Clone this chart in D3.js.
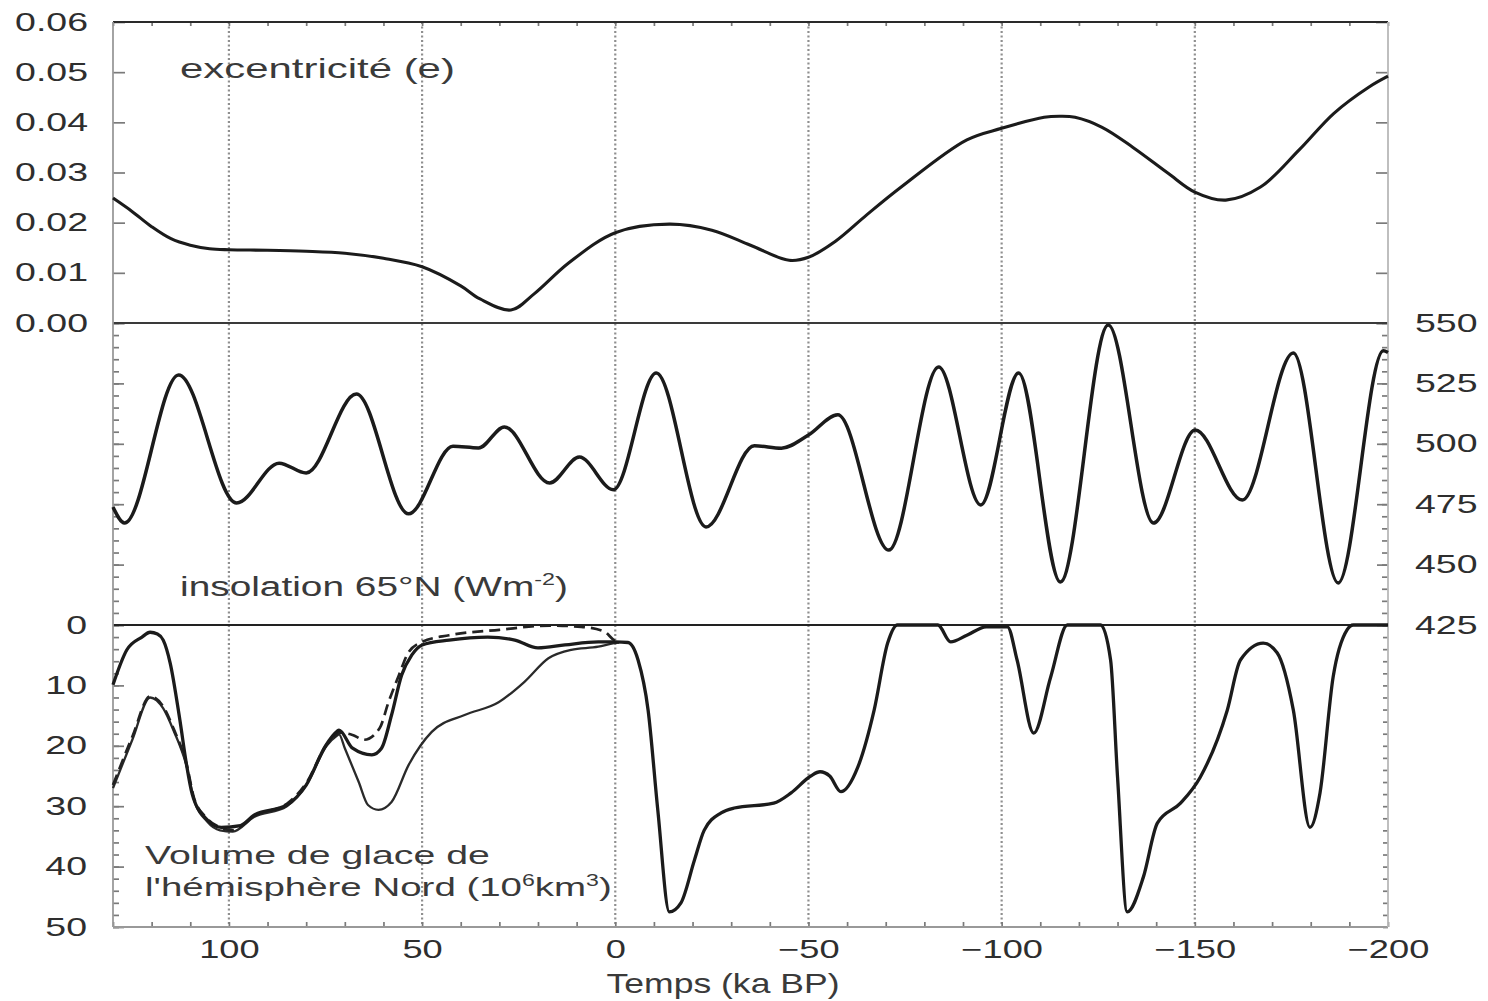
<!DOCTYPE html>
<html>
<head>
<meta charset="utf-8">
<script src="https://cdn.jsdelivr.net/npm/d3@7"></script>
<style>
  html, body { margin: 0; background: #fff; }
  svg { display: block; }
</style>
</head>
<body>
<svg id="chart" width="1488" height="1001"></svg>
<script>
// ---- Data -------------------------------------------------------------
// Time in ka BP (positive = past, negative = future)
const timeTicks = [100, 50, 0, -50, -100, -150, -200];
const gridTimes = [100, 50, 0, -50, -100, -150];
const eccTicks = [0, 0.01, 0.02, 0.03, 0.04, 0.05, 0.06];
const insTicks = [550, 525, 500, 475, 450, 425];
const iceTicks = [0, 10, 20, 30, 40, 50];

// Orbital eccentricity [time, e]
const eccentricity = [
  [130,0.0249],[125,0.0222],[120,0.0192],[115,0.0168],[110,0.0155],[105,0.0148],
  [100,0.0146],[90,0.0145],[80,0.0143],[70,0.0139],[60,0.0129],[50,0.0112],
  [40,0.0074],[35,0.0048],[27,0.0026],[21,0.0058],[12,0.0120],[0,0.0180],
  [-14,0.0197],[-25,0.0185],[-35,0.0155],[-45,0.0125],[-50,0.0131],[-57,0.0163],
  [-65,0.0215],[-74,0.0271],[-91,0.0365],[-100,0.0388],[-111,0.0410],[-115,0.0412],
  [-119,0.0410],[-126,0.0390],[-134,0.0350],[-143,0.0299],[-150,0.0261],[-158,0.0245],
  [-167,0.0271],[-177,0.0345],[-186,0.0418],[-195,0.0470],[-200,0.0492]
];

// Summer insolation at 65°N [time, W m-2]
const insolation = [
  [130,473.8],[127,467.2],[113,528.5],[98,475.5],[87,492],[80,487.9],[67,520.6],
  [53.5,471],[42,499],[35.4,498.3],[28.7,507],[17,483.8],[9.3,494.5],[0.5,481],
  [-10.6,529.3],[-23.5,465.6],[-36,499.2],[-43,498.2],[-50,503.6],[-57.6,512],
  [-70.8,456],[-83.7,531.8],[-94.6,474.7],[-104.4,529.3],[-115.2,442.8],
  [-127.6,549.2],[-139.3,467.2],[-150.1,505.7],[-162.3,476.7],[-175.5,537.6],
  [-187.1,442.4],[-198.8,538.5],[-200,537.8]
];

// Northern Hemisphere ice volume (10^6 km3), reference simulation
const iceMain = [
  [130,9.9],[126.4,4.1],[122.5,2.0],[120.4,1.2],[118.5,1.5],[117,2.5],[115.2,6.3],
  [112.7,15.7],[111,23],[109.5,28],[106,32],[102,33.5],[97,33.2],[93.5,31.5],
  [85,29.8],[80,26.5],[75,20],[72,17.6],[71.5,17.4],[68,20.4],[63,21.5],[60.5,20.4],
  [57.9,14.9],[55.3,8.3],[52.7,5.0],[50,3.3],[43,2.5],[33,2.0],[26,2.5],[20,3.8],
  [13,3.3],[4.4,2.8],[0,2.8],[-3.3,2.9],[-5.9,5.8],[-8.5,14.1],[-11,30.6],[-14,47.5],
  [-17,46],[-20.5,38.9],[-23,34],[-27.4,31.1],[-30.8,30.3],[-41,29.5],[-45.5,27.8],
  [-50.6,25],[-53,24.3],[-55.5,25],[-58.4,27.6],[-62.8,23.5],[-67,14.1],[-70.5,3],[-73,0],
  [-83.5,0],[-86.8,2.8],[-91,1.7],[-96,0.3],[-101.5,0.3],[-104,5.8],[-108.3,17.9],
  [-112.7,8.6],[-117,0],[-125.6,0],[-128.2,5.8],[-130,25.2],[-132.5,47.5],[-136.7,41.7],
  [-140.3,32.8],[-146.3,29.5],[-151.4,25.2],[-158.4,14.1],[-161.8,5.8],[-167.7,3.0],
  [-171.3,4.6],[-175.5,14.1],[-179.8,33.5],[-182.4,27.8],[-185.8,8.6],[-189.4,0.8],
  [-191,0],[-200,0]
];

// Alternative simulation (dashed)
const iceDashed = [
  [130,26.5],[125,18.5],[120.4,11.8],[117,13.5],[114.3,17.2],[110.9,23.2],[109,28.7],
  [105.7,32],[102.3,33.5],[99,34],[93.5,31.6],[85,29.6],[79.8,26],[74.7,19.8],
  [72,18.1],[71.5,17.8],[68,18.2],[65,19],[61,17.1],[58.7,12.8],[56,8.3],[53.5,4.5],
  [50,2.8],[43,1.7],[30,0.8],[17,0.1],[8.8,0.3],[2.8,1.1],[0.3,2.5],[-1,2.8]
];

// Alternative simulation (thin line)
const iceThin = [
  [130,27],[125,19],[120.4,12],[117,13.8],[114.3,17.5],[110.9,23.5],[109,29],
  [105.7,32.5],[102.3,34],[99,34.2],[93.5,31.8],[85,30],[79.8,26.3],[74.7,20],
  [72,18.3],[71.5,18.1],[70,20.4],[66.4,26],[64,29.8],[61.3,30.6],[57.9,29.3],
  [53.5,23.2],[47.5,17.7],[39,14.9],[30.2,12.8],[23.5,9.4],[17.3,5.5],[11.4,4.1],
  [4.4,3.6],[0.3,3.0],[-1,2.9]
];

// ---- Layout -----------------------------------------------------------
const FONT = '"Liberation Sans", Arial, Helvetica, sans-serif';
const L = 113, R = 1388, T = 22, Y1 = 323, Y2 = 625, B = 927;

const svg = d3.select("#chart");

const x = d3.scaleLinear().domain([130, -200]).range([L, R]);
const yEcc = d3.scaleLinear().domain([0, 0.06]).range([Y1, T]);
const yIns = d3.scaleLinear().domain([425, 550]).range([Y2, Y1]);
const yIce = d3.scaleLinear().domain([0, 50]).range([Y2, B]);

// Tick labels are horizontally widened
function styleAxis(g, sx = 1.5) {
  g.select(".domain").remove();
  g.attr("font-family", FONT).attr("font-size", 25).attr("color", "#7a7a7a");
  g.selectAll("line").attr("stroke-width", 1.7);
  g.selectAll("text").attr("fill", "#2e2e2e").each(function () {
    const t = d3.select(this);
    const tx = +t.attr("x") || 0, ty = +t.attr("y") || 0;
    t.attr("x", null).attr("y", null)
     .attr("transform", `translate(${tx},${ty}) scale(${sx},1)`);
  });
}

// ---- Grid -------------------------------------------------------------
svg.append("g").selectAll("line").data(gridTimes).join("line")
  .attr("x1", d => x(d)).attr("x2", d => x(d))
  .attr("y1", T).attr("y2", B)
  .attr("stroke", "#8f8f8f").attr("stroke-width", 2.2)
  .attr("stroke-dasharray", "2,2.5");

// ---- Axes -------------------------------------------------------------
const noLabel = () => "";
const everyTen = d3.range(-200, 131, 10);

// top panel
svg.append("g").attr("transform", `translate(${L},0)`)
  .call(d3.axisLeft(yEcc).tickValues(eccTicks).tickFormat(d3.format(".2f"))
        .tickSize(-12).tickPadding(25))
  .call(g => styleAxis(g));
svg.append("g").attr("transform", `translate(${R},0)`)
  .call(d3.axisRight(yEcc).tickValues(eccTicks).tickFormat(noLabel).tickSize(-12))
  .call(g => styleAxis(g));

// middle panel
svg.append("g").attr("transform", `translate(${L},0)`)
  .call(d3.axisLeft(yIns).tickValues(d3.range(425, 551, 5)).tickFormat(noLabel).tickSize(-6))
  .call(g => styleAxis(g));
svg.append("g").attr("transform", `translate(${L},0)`)
  .call(d3.axisLeft(yIns).tickValues(insTicks).tickFormat(noLabel).tickSize(-11))
  .call(g => styleAxis(g));
svg.append("g").attr("transform", `translate(${R},0)`)
  .call(d3.axisRight(yIns).tickValues(d3.range(425, 551, 5)).tickFormat(noLabel).tickSize(-6))
  .call(g => styleAxis(g));
svg.append("g").attr("transform", `translate(${R},0)`)
  .call(d3.axisRight(yIns).tickValues(insTicks).tickSize(-11).tickPadding(27))
  .call(g => styleAxis(g));

// bottom panel
svg.append("g").attr("transform", `translate(${L},0)`)
  .call(d3.axisLeft(yIce).tickValues(d3.range(0, 51, 2)).tickFormat(noLabel).tickSize(-6))
  .call(g => styleAxis(g));
svg.append("g").attr("transform", `translate(${L},0)`)
  .call(d3.axisLeft(yIce).tickValues(iceTicks).tickSize(-11).tickPadding(26))
  .call(g => styleAxis(g));
svg.append("g").attr("transform", `translate(${R},0)`)
  .call(d3.axisRight(yIce).tickValues(d3.range(0, 51, 2)).tickFormat(noLabel).tickSize(-5))
  .call(g => styleAxis(g));

// time axis ticks along top and bottom frame
svg.append("g").attr("transform", `translate(0,${T})`)
  .call(d3.axisBottom(x).tickValues(everyTen).tickFormat(noLabel).tickSize(4))
  .call(g => styleAxis(g));
svg.append("g").attr("transform", `translate(0,${B})`)
  .call(d3.axisTop(x).tickValues(everyTen).tickFormat(noLabel).tickSize(5))
  .call(g => styleAxis(g));
svg.append("g").attr("transform", `translate(0,${B})`)
  .call(d3.axisBottom(x).tickValues(timeTicks).tickSize(0).tickPadding(13)
        .tickFormat(d => d < 0 ? "\u2212" + Math.abs(d) : String(d)))
  .call(g => styleAxis(g, 1.45));

// ---- Frame ------------------------------------------------------------
const frame = svg.append("g");
[[L, T, R, T, "#2a2a2a"], [L, Y1, R, Y1, "#3a3a3a"], [L, Y2, R, Y2, "#222"],
 [L, B, R, B, "#999"], [L, T, L, B, "#9a9a9a"], [R, T, R, B, "#b8b8b8"]]
  .forEach(([x1, y1, x2, y2, c]) => frame.append("line")
    .attr("x1", x1).attr("y1", y1).attr("x2", x2).attr("y2", y2)
    .attr("stroke", c).attr("stroke-width", 1.8));

// ---- Curves -----------------------------------------------------------
const lineOf = (y, curve = d3.curveMonotoneX) =>
  d3.line().x(d => x(d[0])).y(d => y(d[1])).curve(curve);

svg.append("path").datum(eccentricity)
  .attr("d", lineOf(yEcc, d3.curveCatmullRom.alpha(0.5)))
  .attr("fill", "none").attr("stroke", "#1b1b1b").attr("stroke-width", 3.1)
  .attr("stroke-linejoin", "round");

svg.append("path").datum(insolation).attr("d", lineOf(yIns))
  .attr("fill", "none").attr("stroke", "#1b1b1b").attr("stroke-width", 3.5)
  .attr("stroke-linejoin", "round");

svg.append("path").datum(iceThin).attr("d", lineOf(yIce))
  .attr("fill", "none").attr("stroke", "#2a2a2a").attr("stroke-width", 2.3);
svg.append("path").datum(iceDashed).attr("d", lineOf(yIce))
  .attr("fill", "none").attr("stroke", "#222").attr("stroke-width", 2.7)
  .attr("stroke-dasharray", "11,6");
svg.append("path").datum(iceMain).attr("d", lineOf(yIce))
  .attr("fill", "none").attr("stroke", "#1b1b1b").attr("stroke-width", 3.3)
  .attr("stroke-linejoin", "round");

// ---- Labels -----------------------------------------------------------
// parts: [text, superscript?]; the label is widened to the given width
function label(x0, y0, parts, width, size, anchor = "start") {
  const g = svg.append("g").attr("transform", `translate(${x0},${y0})`);
  const t = g.append("text").attr("font-family", FONT).attr("font-size", size)
    .attr("fill", "#3a3a3a").attr("text-anchor", anchor);
  let raised = false;
  parts.forEach(([s, sup]) => {
    const ts = t.append("tspan").text(s);
    if (sup && !raised) { ts.attr("font-size", size * 0.6).attr("dy", -size * 0.38); raised = true; }
    else if (!sup && raised) { ts.attr("dy", size * 0.38); raised = false; }
  });
  const len = t.node().getComputedTextLength();
  t.attr("transform", `scale(${width / len},1)`);
}

label(180, 78, [["excentricité (e)"]], 275, 27);
label(180, 596, [["insolation 65°N (Wm"], ["-2", true], [")"]], 388, 28);
label(145, 864, [["Volume de glace de"]], 345, 26);
label(145, 896, [["l'hémisphère Nord (10"], ["6", true], ["km"], ["3", true], [")"]], 467, 26);
label(723, 993, [["Temps (ka BP)"]], 233, 27, "middle");
</script>
</body>
</html>
